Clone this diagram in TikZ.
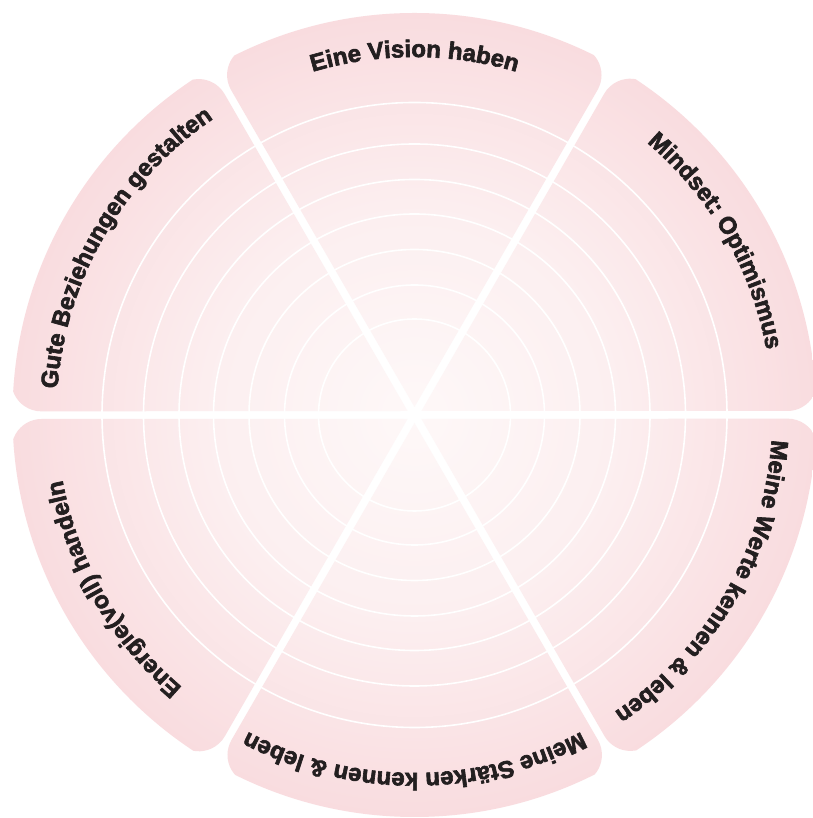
\documentclass[tikz,border=0pt]{standalone}
\usepackage{fontspec}
\newfontfamily\lblfont{Liberation Sans Bold}[FakeBold=2.6]
\usetikzlibrary{calc,decorations.text}
\definecolor{wcenter}{HTML}{FEF8F8}
\definecolor{wmid}{HTML}{FCEFF0}
\definecolor{wedge}{HTML}{F9DCDF}
\definecolor{ink}{HTML}{231F20}
\pgfdeclareradialshading{wheel}{\pgfpoint{0bp}{0bp}}{color(0bp)=(wcenter); color(12.5bp)=(wmid); color(25bp)=(wedge); color(50bp)=(wedge)}
% sector starting at angle #1, 60 degrees wide, rounded outer corners
\newcommand\sectorpath[1]{($(C)+(#1:372.9pt)+(#1+90:4pt)$) arc[start angle=#1-90, end angle=#1+5.0, radius=30pt] arc[start angle=#1+5.0, end angle=#1+55.0, radius=402pt] arc[start angle=#1+55.0, end angle=#1+150, radius=30pt] -- ($(C)+(#1+30:8pt)$) -- cycle}
\newcommand\arclabel[2]{\path[decorate, decoration={text along path, text align=center, text={|\lblfont\fontsize{24pt}{28pt}\selectfont\color{ink}|#2}}] ($(C)+(#1+59.8:358pt)$) arc[start angle=#1+59.8, end angle=#1+0.2, radius=358pt];}
\begin{document}
\begin{tikzpicture}
\useasboundingbox (0,0) rectangle (812pt,818pt);
\fill[white] (0,0) rectangle (812pt,818pt);
\coordinate (C) at (414.5pt,403pt);
\begin{scope}
  \clip \sectorpath{0} \sectorpath{60} \sectorpath{120} \sectorpath{180} \sectorpath{240} \sectorpath{300};
  \shade[shading=wheel] (C) circle[radius=402pt];
\end{scope}
\foreach \r in {96,130,165.5,201,235.5,271,312.5}
  \draw[white, line width=1.6pt] (C) circle[radius=\r pt];
\arclabel{60}{Eine Vision haben}
\arclabel{0}{Mindset: Optimismus}
\arclabel{300}{Meine Werte kennen {\&} leben}
\arclabel{240}{Meine Stärken kennen {\&} leben}
\arclabel{180}{Energie(voll) handeln}
\arclabel{120}{Gute Beziehungen gestalten}
\end{tikzpicture}
\end{document}
